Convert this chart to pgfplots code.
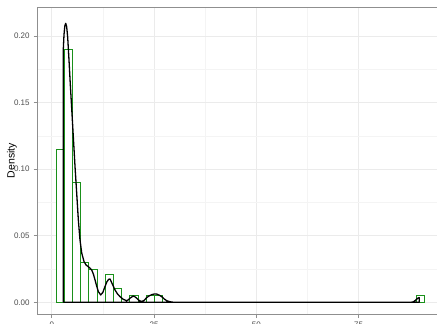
\documentclass[border=0pt]{standalone}
\usepackage{fontspec}
\setmainfont{Liberation Sans}
\usepackage{pgfplots}
\pgfplotsset{compat=1.18}
\definecolor{gridmaj}{HTML}{EBEBEB}
\definecolor{gridmin}{HTML}{F4F4F4}
\definecolor{frame}{HTML}{8F8F8F}
\definecolor{ticklab}{HTML}{4D4D4D}
\definecolor{bargreen}{HTML}{1A901A}
\begin{document}
\begin{tikzpicture}
\begin{axis}[
  at={(0pt,0pt)}, anchor=south west,
  scale only axis, width=404.7pt, height=307.6pt,
  xmin=-3.6, xmax=95.3, ymin=-0.0092, ymax=0.2218,
  xtick={0,25,50,75}, ytick={0,0.05,0.10,0.15,0.20},
  minor x tick num=1, minor y tick num=1,
  grid=both,
  major grid style={draw=gridmaj, line width=0.9pt},
  minor grid style={draw=gridmin, line width=0.5pt},
  axis line style={draw=frame, line width=0.8pt},
  tick align=outside, tick pos=left,
  major tick length=3.5pt, minor tick length=0pt,
  every tick/.style={draw=frame, line width=0.7pt},
  /pgf/number format/assume math mode=true,
  yticklabel style={/pgf/number format/fixed, /pgf/number format/fixed zerofill, /pgf/number format/precision=2},
  every y tick label/.append style={anchor=east, inner sep=0pt, xshift=-3.7pt, font=\fontsize{8}{9}\selectfont, text=ticklab},
  every x tick label/.append style={anchor=north, inner sep=0pt, yshift=-4pt, font=\fontsize{8}{9}\selectfont, text=ticklab},
  ylabel={Density},
  every axis y label/.style={at={(axis description cs:-0.0618,0.5)}, rotate=90, anchor=center, font=\fontsize{10.5}{12}\selectfont, text=black},
]
\addplot[ybar, bar width=2, bar shift=0pt, draw=bargreen, fill=white, line width=1pt] coordinates {
(2.1,0.115) (4.1,0.19) (6.1,0.09) (8.1,0.03) (10.1,0.025) (14.1,0.0205)
(16.1,0.0105) (20.1,0.005) (24.1,0.005) (26.1,0.005) (90.1,0.005)
};
\addplot[black, line width=1.3pt, line join=round] coordinates {
(2.83,0) (2.83,0.190) (3.0,0.201) (3.2,0.2075) (3.42,0.2095) (3.65,0.207) (3.9,0.199)
(4.2,0.183) (4.55,0.163) (4.89,0.145) (5.28,0.124) (5.69,0.102) (6.1,0.082) (6.5,0.062)
(6.9,0.047) (7.33,0.037) (7.9,0.0305) (8.4,0.028) (8.95,0.0267) (9.4,0.0255) (9.77,0.0243)
(10.2,0.021) (10.58,0.0168) (11.0,0.012) (11.4,0.008) (11.97,0.0055) (12.5,0.0075)
(13.0,0.0117) (13.5,0.0155) (13.9,0.0172) (14.25,0.0175) (14.8,0.0138) (15.47,0.0092)
(16.1,0.0062) (16.7,0.0042) (17.5,0.0022) (18.3,0.0012) (18.7,0.0018) (19.1,0.003)
(19.9,0.0047) (20.4,0.004) (20.8,0.003) (21.4,0.0012) (22.0,0.0006) (22.6,0.0015)
(23.2,0.0035) (23.8,0.0048) (24.4,0.0057) (25.0,0.0062) (25.66,0.0062) (26.3,0.0053)
(26.9,0.0042) (27.5,0.0025) (28.1,0.0012) (28.7,0.0006) (29.3,0.0002) (30,0)
(87.8,0) (88.4,0.0004) (88.9,0.0015) (89.4,0.003) (89.8,0.0035) (89.8,0) (2.83,0)
};
\end{axis}
\pgfresetboundingbox
\path[use as bounding box] (-37pt,-9.45pt) rectangle (400pt,314.55pt);
\end{tikzpicture}
\end{document}
